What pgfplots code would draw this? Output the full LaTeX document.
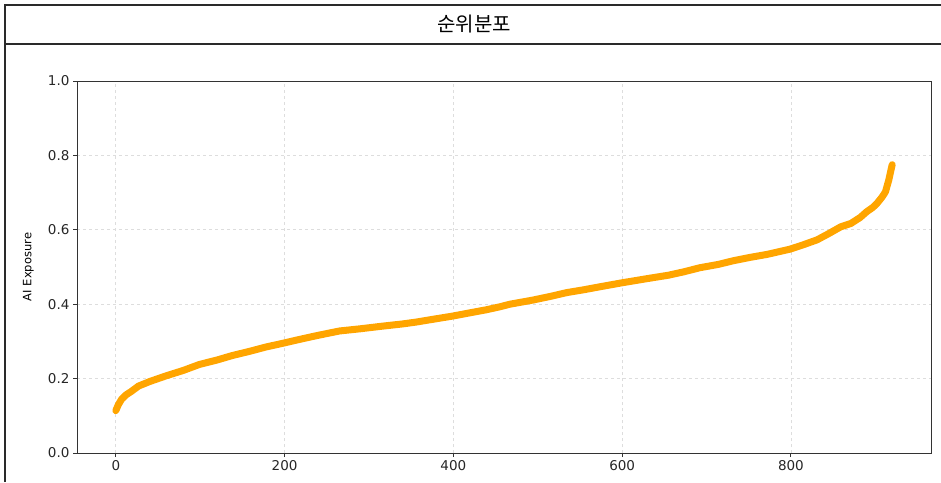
\documentclass[border=0pt]{standalone}
\usepackage{pgfplots}
\pgfplotsset{compat=1.18}
\usepackage{pgfplotstable}
\usepackage{fontspec}
\setmainfont{DejaVu Sans}
\newfontfamily\cjk{Noto Sans CJK KR}
\definecolor{curve}{HTML}{FFA500}
\definecolor{gridc}{HTML}{DDDDDD}
\definecolor{framec}{HTML}{2A2A2A}
\pgfplotstableread{
x y
0 0.114
3 0.130
7 0.145
12 0.156
18 0.165
27 0.180
40 0.192
59 0.207
80 0.222
99 0.238
120 0.250
138 0.262
158 0.273
178 0.285
198 0.295
217 0.305
239 0.316
265 0.328
290 0.334
316 0.341
340 0.347
356 0.352
380 0.361
399 0.368
420 0.377
439 0.385
455 0.393
467 0.400
494 0.411
515 0.421
534 0.431
555 0.439
574 0.447
601 0.458
633 0.470
655 0.478
673 0.487
692 0.498
714 0.507
732 0.517
752 0.526
772 0.534
799 0.548
815 0.560
831 0.573
845 0.590
859 0.608
871 0.617
882 0.633
890 0.649
897 0.660
902 0.671
908 0.688
912 0.702
914 0.718
916 0.734
918 0.755
920 0.775
}\rankdata
\begin{document}
\begin{tikzpicture}
\useasboundingbox (0pt,0pt) rectangle (941pt,482pt);
% outer frame with title bar
\draw[framec, line width=1.3pt] (5pt,0pt) -- (5pt,477pt) -- (941pt,477pt);
\draw[framec, line width=1.3pt] (5pt,438pt) -- (941pt,438pt);
\node[font=\cjk\fontsize{20}{24}\selectfont, anchor=center] at (474pt,457.5pt) {순위분포};
\begin{axis}[
  at={(77pt,29pt)}, anchor=south west,
  width=854pt, height=372pt, scale only axis,
  xmin=-46, xmax=966, ymin=0, ymax=1,
  xtick={0,200,400,600,800},
  ytick={0,0.2,0.4,0.6,0.8,1.0},
  yticklabel style={/pgf/number format/.cd, fixed, fixed zerofill, precision=1},
  /pgf/number format/assume math mode=true,
  ticklabel style={font=\fontsize{13.5}{15}\selectfont, text=black!85},
  tick align=outside, tickpos=left,
  major tick length=4pt,
  tick style={line width=0.9pt, black!80},
  axis line style={line width=0.9pt, black!80},
  grid=major,
  major grid style={gridc, dashed, line width=0.7pt},
  ylabel={AI Exposure},
  ylabel style={at={(axis description cs:-0.057,0.5)}, anchor=center, font=\fontsize{11.5}{13}\selectfont},
  clip=false,
]
\addplot[curve, line width=7pt, line cap=round, line join=round, mark=none] table[x=x, y=y] {\rankdata};
\end{axis}
\end{tikzpicture}
\end{document}
